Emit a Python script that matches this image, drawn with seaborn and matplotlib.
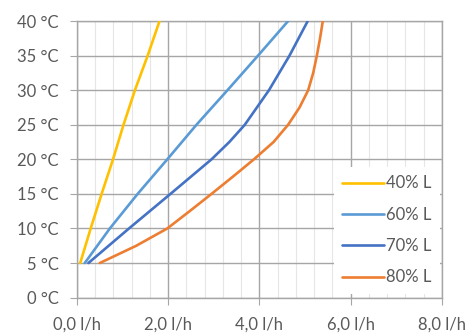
"""
Flow rate vs. temperature curves for four load levels
"""

import matplotlib.pyplot as plt
from matplotlib.ticker import MultipleLocator, FuncFormatter
import numpy as np
import pandas as pd
import seaborn as sns

# Values (flow in l/h at given temperature)
temps = [5, 10, 15, 20, 25, 30, 35, 40]
flow_40 = [0.07, 0.30, 0.54, 0.79, 1.02, 1.27, 1.55, 1.81]
flow_60 = [0.17, 0.72, 1.33, 1.98, 2.62, 3.30, 3.97, 4.63]
temps_70 = [5, 10, 15, 20, 22.5, 25, 30, 35, 40]
flow_70 = [0.25, 1.14, 2.05, 2.95, 3.34, 3.68, 4.21, 4.66, 5.06]
temps_80 = [5, 7.5, 10, 12.5, 15, 17.5, 20, 22.5, 25, 27.5, 30, 32.5, 35, 37.5, 40]
flow_80 = [0.50, 1.30, 1.98, 2.47, 2.95, 3.42, 3.88, 4.31, 4.63, 4.88,
           5.07, 5.18, 5.26, 5.33, 5.39]

series_names = ["40% L", "60% L", "70% L", "80% L"]
colors = ["#FFC000", "#5B9BD5", "#4472C4", "#ED7D31"]

# Long-format table for seaborn
frames = []
for name, t, f in zip(series_names,
                      [temps, temps, temps_70, temps_80],
                      [flow_40, flow_60, flow_70, flow_80]):
    frames.append(pd.DataFrame({"flow": f, "temp": t, "series": name}))
df = pd.concat(frames, ignore_index=True)

sns.set_style("white")
plt.rcParams["font.family"] = ["Lato", "DejaVu Sans"]

fig, ax = plt.subplots(figsize=(4.71, 3.34), dpi=100)
fig.subplots_adjust(left=0.1635, right=0.938, top=0.937, bottom=0.109)

sns.lineplot(data=df, x="flow", y="temp", hue="series", palette=colors,
             sort=False, estimator=None, linewidth=1.9, ax=ax, zorder=3)

ax.set_xlim(0, 8)
ax.set_ylim(0, 40)
ax.xaxis.set_major_locator(MultipleLocator(2))
ax.xaxis.set_minor_locator(MultipleLocator(0.4))
ax.yaxis.set_major_locator(MultipleLocator(5))

ax.xaxis.set_major_formatter(FuncFormatter(lambda v, p: f"{v:.1f}".replace(".", ",") + " l/h"))
ax.yaxis.set_major_formatter(FuncFormatter(lambda v, p: f"{int(v)} °C"))

# Grid: major lines darker, faint minor vertical lines
ax.grid(which="major", color="#A6A6A6", linewidth=1.0, zorder=1)
ax.grid(which="minor", axis="x", color="#E6E6E6", linewidth=0.8, zorder=0)
ax.set_axisbelow(True)

for side in ["left", "right", "top", "bottom"]:
    ax.spines[side].set_color("#A6A6A6")
    ax.spines[side].set_linewidth(1.0)

ax.tick_params(axis="both", which="major", length=5, color="#A6A6A6",
               labelsize=12, labelcolor="#595959")
ax.tick_params(axis="both", which="minor", length=0)
ax.tick_params(axis="x", direction="out", bottom=True, pad=9)
ax.tick_params(axis="y", direction="out", left=True, pad=8)

ax.set_xlabel("")
ax.set_ylabel("")

leg = ax.legend(loc="upper right", bbox_to_anchor=(0.995, 0.472), frameon=True,
                facecolor="white", edgecolor="none", framealpha=1.0,
                fontsize=12, handlelength=2.5, handletextpad=0.15,
                labelspacing=0.92, borderaxespad=0, borderpad=0.5)
for text in leg.get_texts():
    text.set_color("#595959")
leg.set_zorder(5)

fig.savefig("out.png", dpi=100)
